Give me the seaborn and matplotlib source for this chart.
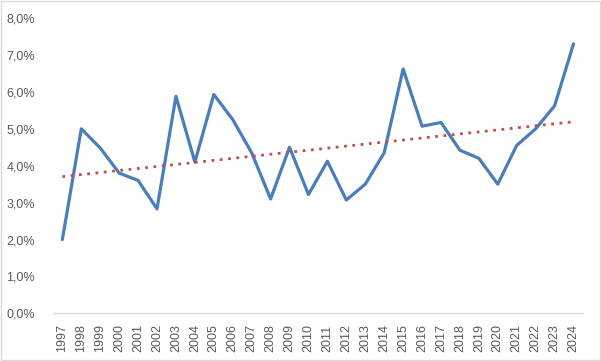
import numpy as np
import pandas as pd
import matplotlib
matplotlib.use("Agg")
import matplotlib.pyplot as plt
import matplotlib.ticker as mticker
from matplotlib.patches import Rectangle
import seaborn as sns

years = list(range(1997, 2025))
rates = [2.0, 5.0, 4.48, 3.8, 3.6, 2.83, 5.88, 4.1, 5.93, 5.25,
         4.35, 3.1, 4.5, 3.22, 4.12, 3.07, 3.5, 4.35, 6.62, 5.07,
         5.17, 4.42, 4.2, 3.5, 4.55, 5.0, 5.62, 7.3]

df = pd.DataFrame({"year": years, "rate": np.array(rates) / 100})

sns.set_style("white")
plt.rcParams['font.family'] = ['Liberation Sans', 'DejaVu Sans']

fig = plt.figure(figsize=(6.01, 3.61), dpi=100)
ax = fig.add_axes([0.088, 0.132, 0.882, 0.818])

sns.lineplot(data=df, x="year", y="rate", ax=ax, color="#4A7EBB", linewidth=2.3)
sns.regplot(data=df, x="year", y="rate", ax=ax, scatter=False, ci=None,
            line_kws=dict(color="#C0504D", linestyle=(0, (1, 2)), linewidth=2))

ax.set_xlim(1996.5, 2024.5)
ax.set_ylim(0, 0.08)
ax.set_xticks(years)
ax.set_xticklabels([str(y) for y in years], rotation=90)
ax.set_yticks(np.arange(0, 0.081, 0.01))
ax.yaxis.set_major_formatter(mticker.FuncFormatter(lambda v, p: f"{v*100:.1f}%".replace(".", ",")))
ax.set_xlabel("")
ax.set_ylabel("")
ax.tick_params(axis="both", length=0, colors="#595959", labelsize=9)
ax.tick_params(axis="y", pad=13)
ax.tick_params(axis="x", pad=8)

for s in ["top", "right", "left"]:
    ax.spines[s].set_visible(False)
ax.spines["bottom"].set_color("#D9D9D9")
ax.spines["bottom"].set_linewidth(1)

fig.patches.append(Rectangle((0.001, 0.002), 0.997, 0.995, transform=fig.transFigure,
                             fill=False, edgecolor="#D9D9D9", linewidth=1))

fig.savefig("out.png", dpi=100)
